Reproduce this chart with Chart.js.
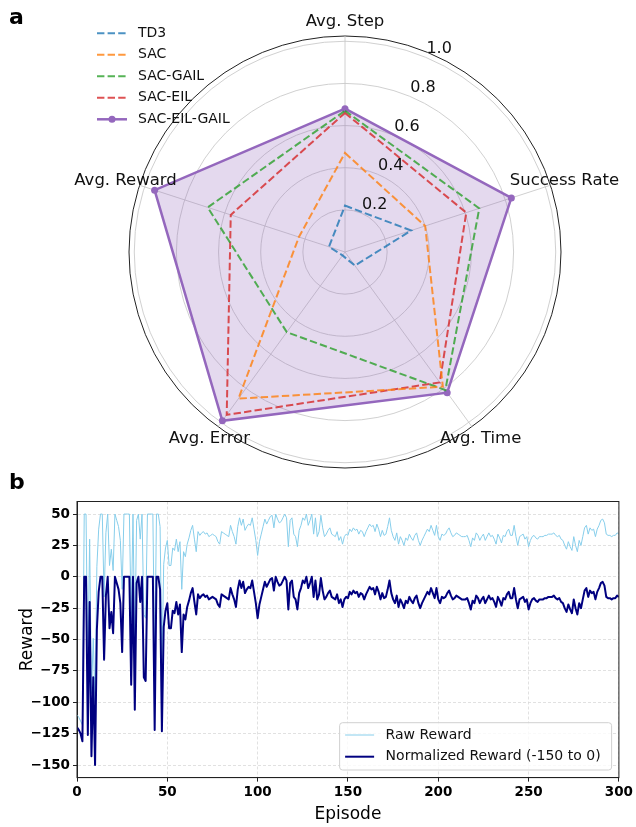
<!DOCTYPE html>
<html>
<head>
<meta charset="utf-8">
<title>Radar comparison and reward curve</title>
<script src="https://cdn.jsdelivr.net/npm/chart.js@4.4.1/dist/chart.umd.min.js"></script>
<style>
  body { margin:0; background:#fff; }
  #wrap { position:relative; width:636px; height:827px; overflow:hidden; }
  canvas { position:absolute; left:0; }
  #radarChart { top:0; }
  #rewardChart { top:465px; }
</style>
</head>
<body>
<div id="wrap">
  <canvas id="radarChart" width="636" height="470"></canvas>
  <canvas id="rewardChart" width="636" height="362"></canvas>
</div>
<script>
const FONT = '"DejaVu Sans", "Liberation Sans", sans-serif';

// ---------- panel a: radar ----------
const radarLabels = ["Avg. Step", "Success Rate", "Avg. Time", "Avg. Error", "Avg. Reward"];
const td3        = [0.22, 0.33, 0.08, 0.02, 0.08];
const sac        = [0.47, 0.40, 0.79, 0.86, 0.23];
const sacGail    = [0.67, 0.67, 0.81, 0.47, 0.685];
const sacEil     = [0.66, 0.605, 0.765, 0.955, 0.57];
const sacEilGail = [0.68, 0.83, 0.825, 0.99, 0.95];
const radarTicks = [0.2, 0.4, 0.6, 0.8, 1.0];

// ---------- panel b: reward per episode ----------
const rawReward = [
  -110,-112,-115,-118,50,50,-76,30,-93,-49,
  -100,8,38,50,50,-16,35,50,9,22,
  5,50,45,40,29,-10,50,50,50,50,
  -36,50,-56,45,50,30,50,-30,-33,50,
  50,50,50,-72,50,50,40,-73,10,23,
  29,9,9,23,21,30,20,28,-10,20,
  16,26,31,37,41,30,20,36,33,35,
  36,34,35,32,33,34,33,32,28,26,
  36,35,34,33,32,41,36,32,26,40,
  47,41,46,37,40,42,41,47,38,29,
  17,28,34,40,46,42,45,48,49,39,
  50,46,43,44,47,50,47,24,45,47,
  34,32,24,37,41,47,45,50,41,45,
  50,34,47,32,36,49,39,32,34,37,
  39,34,33,32,36,29,32,26,32,34,
  33,38,36,39,37,38,34,37,36,32,
  36,39,42,40,41,36,42,38,32,37,
  33,34,40,47,37,32,29,35,26,32,
  29,25,31,29,34,31,29,33,35,29,
  25,29,32,35,38,36,41,37,33,41,
  32,29,34,33,34,37,39,35,32,33,
  35,34,33,32,32,32,33,29,24,31,
  29,35,33,29,32,34,29,32,35,32,
  33,30,26,34,31,27,33,32,36,38,
  33,33,41,32,25,32,33,34,30,32,
  24,29,32,33,31,30,32,32,32,33,
  33,34,34,34,35,33,32,33,30,29,
  25,22,28,24,21,32,25,20,29,25,
  32,39,41,34,39,37,38,32,38,41,
  45,46,43,34,33,33,32,33,33,35,
  34
];
const normReward = [
  -120,-122,-125,-131,0,0,-126,-20,-143,-80,
  -150,-42,-12,0,0,-66,-15,0,-41,-28,
  -45,0,-5,-10,-21,-60,0,0,0,0,
  -86,0,-106,-5,0,-20,0,-80,-83,0,
  0,0,0,-122,0,0,-10,-123,-40,-27,
  -21,-41,-41,-27,-29,-20,-30,-22,-60,-30,
  -34,-24,-19,-13,-9,-20,-30,-14,-17,-15,
  -14,-16,-15,-18,-17,-16,-17,-18,-22,-24,
  -14,-15,-16,-17,-18,-9,-14,-18,-24,-10,
  -3,-9,-4,-13,-10,-8,-9,-3,-12,-21,
  -33,-22,-16,-10,-4,-8,-5,-2,-1,-11,
  0,-4,-7,-6,-3,0,-3,-26,-5,-3,
  -16,-18,-26,-13,-9,-3,-5,0,-9,-5,
  0,-16,-3,-18,-14,-1,-11,-18,-16,-13,
  -11,-16,-17,-18,-14,-21,-18,-24,-18,-16,
  -17,-12,-14,-11,-13,-12,-16,-13,-14,-18,
  -14,-11,-8,-10,-9,-14,-8,-12,-18,-13,
  -17,-16,-10,-3,-13,-18,-21,-15,-24,-18,
  -21,-25,-19,-21,-16,-19,-21,-17,-15,-21,
  -25,-21,-18,-15,-12,-14,-9,-13,-17,-9,
  -18,-21,-16,-17,-16,-13,-11,-15,-18,-17,
  -15,-16,-17,-18,-18,-18,-17,-21,-26,-19,
  -21,-15,-17,-21,-18,-16,-21,-18,-15,-18,
  -17,-20,-24,-16,-19,-23,-17,-18,-14,-12,
  -17,-17,-9,-18,-25,-18,-17,-16,-20,-18,
  -26,-21,-18,-17,-19,-20,-18,-18,-18,-17,
  -17,-16,-16,-16,-15,-17,-18,-17,-20,-21,
  -25,-28,-22,-26,-29,-18,-25,-30,-21,-25,
  -18,-11,-9,-16,-11,-13,-12,-18,-12,-9,
  -5,-4,-7,-16,-17,-17,-18,-17,-17,-15,
  -16
];
const episodes = normReward.map((_, i) => i);
const xTicks = [0, 50, 100, 150, 200, 250, 300];
const yTicks = [-150, -125, -100, -75, -50, -25, 0, 25, 50];

function fmtTick(v){
  return v < 0 ? "\u2212" + Math.abs(v) : String(v);
}

// radar: labels, rotated tick numbers, legend, panel letter
const radarDecor = {
  id: "radarDecor",
  afterDraw(chart){
    const ctx = chart.ctx;
    const r = chart.scales.r;
    ctx.save();
    ctx.fillStyle = "#111";
    ctx.textAlign = "center";
    ctx.textBaseline = "middle";
    ctx.font = "16.5px " + FONT;
    radarLabels.forEach((lab, i) => {
      const p = r.getPointPositionForValue(i, 1.095);
      ctx.fillText(lab, p.x, p.y);
    });
    ctx.font = "16px " + FONT;
    const a = 22.5 * Math.PI / 180;
    radarTicks.forEach(v => {
      const d = r.getDistanceFromCenterForValue(v);
      ctx.fillText(v.toFixed(1), r.xCenter + d * Math.sin(a) + 13.5, r.yCenter - d * Math.cos(a) - 8);
    });

    // legend
    ctx.textAlign = "left";
    ctx.font = "14px " + FONT;
    chart.data.datasets.forEach((ds, i) => {
      const y = 33.3 + i * 21.5;
      ctx.strokeStyle = ds.borderColor;
      ctx.lineWidth = ds.borderWidth;
      ctx.setLineDash(ds.borderDash || []);
      ctx.beginPath();
      ctx.moveTo(97, y);
      ctx.lineTo(127, y);
      ctx.stroke();
      ctx.setLineDash([]);
      if(ds.pointRadius){
        ctx.fillStyle = ds.pointBackgroundColor;
        ctx.beginPath();
        ctx.arc(112, y, ds.pointRadius, 0, Math.PI * 2);
        ctx.fill();
      }
      ctx.fillStyle = "#111";
      ctx.fillText(ds.label, 138, y);
    });

    ctx.font = "bold 22px " + FONT;
    ctx.textBaseline = "alphabetic";
    ctx.fillStyle = "#000";
    ctx.fillText("a", 9, 24);
    ctx.restore();
  }
};

// line chart: full frame, legend box, panel letter
const rewardDecor = {
  id: "rewardDecor",
  afterDraw(chart){
    const ctx = chart.ctx;
    const ca = chart.chartArea;
    ctx.save();
    ctx.strokeStyle = "#222";
    ctx.lineWidth = 1;
    ctx.strokeRect(ca.left, ca.top, ca.right - ca.left, ca.bottom - ca.top);

    const bw = 272, bh = 47.3;
    const bx = ca.right - 7.3 - bw, by = ca.bottom - 7.6 - bh;
    ctx.beginPath();
    ctx.roundRect(bx, by, bw, bh, 3);
    ctx.fillStyle = "rgba(255,255,255,0.8)";
    ctx.fill();
    ctx.strokeStyle = "#d0d0d0";
    ctx.lineWidth = 1;
    ctx.stroke();

    ctx.font = "14px " + FONT;
    ctx.textBaseline = "middle";
    ctx.textAlign = "left";
    const rows = [by + 12.3, by + 34];
    chart.data.datasets.forEach((ds, i) => {
      ctx.strokeStyle = ds.borderColor;
      ctx.lineWidth = ds.borderWidth;
      ctx.beginPath();
      ctx.moveTo(bx + 5.5, rows[i]);
      ctx.lineTo(bx + 34.5, rows[i]);
      ctx.stroke();
      ctx.fillStyle = "#111";
      ctx.fillText(ds.label, bx + 46, rows[i]);
    });

    ctx.font = "bold 22px " + FONT;
    ctx.textBaseline = "alphabetic";
    ctx.fillStyle = "#000";
    ctx.fillText("b", 9, 24);
    ctx.restore();
  }
};

function buildRadar(){
  const dashed = (label, data, color) => ({
    label, data,
    borderColor: color,
    borderWidth: 2,
    borderDash: [7.4, 3.2],
    fill: false,
    pointRadius: 0
  });

  new Chart(document.getElementById("radarChart"), {
    type: "radar",
    data: {
      labels: radarLabels,
      datasets: [
        dashed("TD3", td3, "rgba(31,119,180,0.8)"),
        dashed("SAC", sac, "rgba(255,127,14,0.8)"),
        dashed("SAC-GAIL", sacGail, "rgba(44,160,44,0.8)"),
        dashed("SAC-EIL", sacEil, "rgba(214,39,40,0.8)"),
        {
          label: "SAC-EIL-GAIL",
          data: sacEilGail,
          borderColor: "#9467bd",
          borderWidth: 2.5,
          backgroundColor: "rgba(148,103,189,0.25)",
          fill: true,
          pointRadius: 3.5,
          pointBackgroundColor: "#9467bd",
          pointBorderWidth: 0
        }
      ]
    },
    options: {
      responsive: false,
      animation: false,
      layout: { padding: { left: 129, top: 36, right: 75, bottom: 2 } },
      plugins: { legend: { display: false }, tooltip: { enabled: false } },
      elements: { line: { tension: 0 } },
      scales: {
        r: {
          min: 0,
          max: 1.025,
          afterBuildTicks: s => { s.ticks = [0, ...radarTicks, 1.025].map(v => ({ value: v })); },
          ticks: { display: false },
          pointLabels: { display: false },
          grid: {
            circular: true,
            color: c => (c.tick && c.tick.value > 1.01) ? "#222" : "#c4c4c4",
            lineWidth: c => (c.tick && c.tick.value > 1.01) ? 1 : 0.8
          },
          angleLines: { color: "#c4c4c4", lineWidth: 0.8 }
        }
      }
    },
    plugins: [radarDecor]
  });
}

function buildReward(){
  new Chart(document.getElementById("rewardChart"), {
    type: "line",
    data: {
      labels: episodes,
      datasets: [
        { label: "Raw Reward", data: rawReward, borderColor: "#87ceeb", borderWidth: 1,
          pointRadius: 0, borderJoinStyle: "round", order: 1 },
        { label: "Normalized Reward (-150 to 0)", data: normReward, borderColor: "#000080", borderWidth: 2,
          pointRadius: 0, borderJoinStyle: "round", order: 0 }
      ]
    },
    options: {
      responsive: false,
      animation: false,
      layout: { padding: { left: 0, top: 36.5, right: 16, bottom: 0 } },
      plugins: { legend: { display: false }, tooltip: { enabled: false } },
      elements: { line: { tension: 0 } },
      scales: {
        x: {
          type: "linear",
          min: 0, max: 300,
          afterBuildTicks: s => { s.ticks = xTicks.map(v => ({ value: v })); },
          afterFit: s => { s.height = 49.4; },
          grid: { color: "#d9d9d9", lineWidth: 0.8, tickColor: "#222", tickLength: 4, tickWidth: 1 },
          border: { color: "#222", width: 1, dash: [3, 2] },
          ticks: { color: "#000", font: { family: FONT, size: 13.5, weight: "bold" }, padding: 3,
                   maxRotation: 0, autoSkip: false },
          title: { display: true, text: "Episode", color: "#000", font: { family: FONT, size: 17 },
                   padding: { top: 0, bottom: 2 } }
        },
        y: {
          min: -160, max: 60,
          afterBuildTicks: s => { s.ticks = yTicks.map(v => ({ value: v })); },
          afterFit: s => { s.width = 77; },
          grid: { color: "#d9d9d9", lineWidth: 0.8, tickColor: "#222", tickLength: 4, tickWidth: 1 },
          border: { color: "#222", width: 1, dash: [3, 2] },
          ticks: { color: "#000", font: { family: FONT, size: 13.5, weight: "bold" }, padding: 3,
                   autoSkip: false, callback: v => fmtTick(v) },
          title: { display: true, text: "Reward", color: "#000", font: { family: FONT, size: 17 },
                   padding: { top: 17, bottom: 0 } }
        }
      }
    },
    plugins: [rewardDecor]
  });
}

document.addEventListener("DOMContentLoaded", () => {
  buildRadar();
  buildReward();
});
</script>
</body>
</html>
